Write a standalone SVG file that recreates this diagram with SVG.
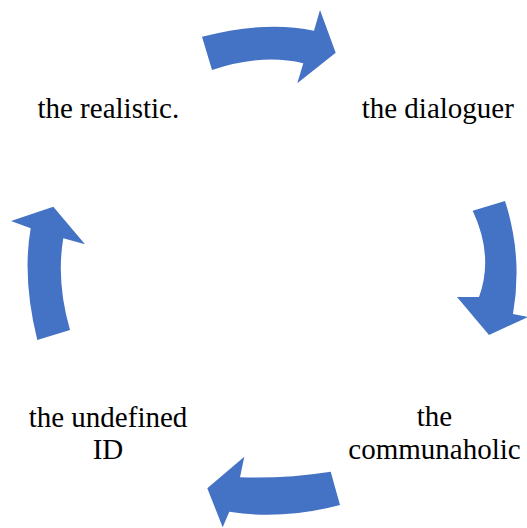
<svg xmlns="http://www.w3.org/2000/svg" width="527" height="528" viewBox="0 0 527 528">
<style>
.arrow{fill:#4472C4;stroke:none}
.lbl{font-family:"Liberation Serif","Times New Roman",Times,serif;font-size:29px;fill:#000;text-anchor:middle}
</style>
<rect width="527" height="528" fill="#fff"/>
<g id="connectors">
<path class="arrow" d="M202,36.7 Q266,20.3 314,30.7 L320,10 L335.7,52.7 L297.3,83.3 L303.3,63.3 Q262.3,53.3 212,70 Z"/>
<path class="arrow" d="M505,201 Q523,256.5 513,314 L528,317 L489,335 L457,297 L479,297 Q494,256 472.7,210.7 Z"/>
<path class="arrow" d="M340,505 Q282,520.3 229.3,511.7 L222.7,527.3 L207.3,488.3 L244.3,456.7 L240,477.3 Q284.7,478.9 330.7,471.7 Z"/>
<path class="arrow" d="M37.3,340 Q22,278 30.7,228.3 L11,221 L53.3,206.7 L85,244.3 L63.3,238.3 Q56,281.7 70,330 Z"/>
</g>
<g id="node-realistic"><text class="lbl" x="108.3" y="117.7">the realistic.</text></g>
<g id="node-dialoguer"><text class="lbl" x="437.8" y="117.7">the dialoguer</text></g>
<g id="node-communaholic"><text class="lbl" x="434.5" y="426"><tspan x="434.5" y="426">the</tspan><tspan x="434.5" y="459.3">communaholic</tspan></text></g>
<g id="node-undefined"><text class="lbl" x="108" y="426.7"><tspan x="108" y="426.7">the undefined</tspan><tspan x="108" y="459.3">ID</tspan></text></g>
</svg>
